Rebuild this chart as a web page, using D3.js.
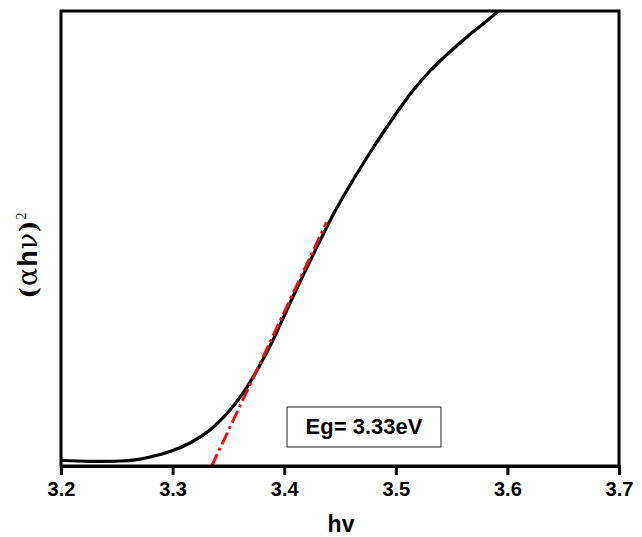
<!DOCTYPE html>
<html>
<head>
<meta charset="utf-8">
<script src="https://cdn.jsdelivr.net/npm/d3@7"></script>
<style>
  body { margin: 0; background: #fff; }
  svg { display: block; }
  text { font-family: "Liberation Sans", Arial, sans-serif; }
</style>
</head>
<body>
<script>
// photon energy (eV) and (alpha h nu)^2 in arbitrary units
var hv = [3.2000, 3.2260, 3.2529, 3.2663, 3.2797, 3.2977, 3.3156, 3.3335, 3.3514,
          3.3667, 3.3783, 3.3900, 3.4052, 3.4258, 3.4437, 3.4590, 3.4796, 3.4921,
          3.5038, 3.5154, 3.5306, 3.5459, 3.5638, 3.5781, 3.5916, 3.6023];
var ahv2 = [0.121, 0.103, 0.110, 0.136, 0.198, 0.319, 0.505, 0.791, 1.231,
            1.736, 2.220, 2.769, 3.582, 4.637, 5.516, 6.176, 6.989, 7.451,
            7.868, 8.253, 8.681, 9.044, 9.429, 9.714, 9.989, 10.198];

// linear fit of the absorption edge (Tauc extrapolation)
var fitX = [3.335, 3.438];
var fitY = [0, 5.36];

var xTicks = [3.2, 3.3, 3.4, 3.5, 3.6, 3.7];
var egLabel = 'Eg= 3.33eV';

var W = 642, H = 537;
var margin = {top: 11, right: 23, bottom: 71, left: 61};
var w = W - margin.left - margin.right;
var h = H - margin.top - margin.bottom;

var svg = d3.select('body').append('svg')
	.attr('width', W)
	.attr('height', H);

var g = svg.append('g')
	.attr('transform', 'translate(' + margin.left + ',' + margin.top + ')');

var x = d3.scaleLinear().domain([3.2, 3.7]).range([0, w]);
var y = d3.scaleLinear().domain([0, 10]).range([h, 0]);

g.append('clipPath').attr('id', 'clip')
	.append('rect').attr('width', w).attr('height', h);

var line = d3.line()
	.x(function(d){ return x(d[0]); })
	.y(function(d){ return y(d[1]); })
	.curve(d3.curveCatmullRom.alpha(0.5));

var pts = hv.map(function(v, i){ return [v, ahv2[i]]; });

g.append('path')
	.attr('clip-path', 'url(#clip)')
	.attr('d', line(pts))
	.style('fill', 'none')
	.style('stroke', '#000')
	.style('stroke-width', 3.2);

var fitPts = fitX.map(function(v, i){ return [v, fitY[i]]; });
g.append('path')
	.attr('d', d3.line().x(function(d){ return x(d[0]); }).y(function(d){ return y(d[1]); })(fitPts))
	.style('fill', 'none')
	.style('stroke', '#e8141b')
	.style('stroke-width', 3)
	.style('stroke-dasharray', '13,4,3,4');

// frame
g.append('rect')
	.attr('width', w).attr('height', h)
	.style('fill', 'none')
	.style('stroke', '#000')
	.style('stroke-width', 3);

var xAxis = g.append('g')
	.attr('transform', 'translate(0,' + h + ')')
	.call(d3.axisBottom(x).tickValues(xTicks).tickSize(9).tickPadding(7).tickFormat(d3.format('.1f')));
xAxis.select('.domain').style('stroke', '#000').style('stroke-width', 3);
xAxis.selectAll('.tick line').style('stroke', '#000').style('stroke-width', 3);
xAxis.selectAll('.tick text')
	.style('font-size', '20px')
	.style('font-weight', 'bold')
	.style('fill', '#000');

svg.append('text')
	.attr('x', margin.left + w / 2 + 1)
	.attr('y', 532)
	.attr('text-anchor', 'middle')
	.style('font-size', '23px')
	.style('font-weight', 'bold')
	.text('hv');

var yl = svg.append('text')
	.attr('transform', 'translate(37,255) rotate(-90)')
	.attr('text-anchor', 'middle')
	.style('font-size', '27px')
	.style('letter-spacing', '1px');
yl.append('tspan').style('font-family', '"DejaVu Serif", serif').style('font-size', '24px').style('font-weight', 'bold').text('(');
yl.append('tspan').style('font-family', '"DejaVu Serif", serif').text('α');
yl.append('tspan').style('font-weight', 'bold').text('h');
yl.append('tspan').style('font-family', '"DejaVu Serif", serif').text('ν');
yl.append('tspan').style('font-family', '"DejaVu Serif", serif').style('font-size', '24px').style('font-weight', 'bold').text(')');
yl.append('tspan').attr('dy', -11).style('font-size', '14px')
	.style('font-family', '"Liberation Serif", serif').text('2');

// band gap annotation
var box = svg.append('g').attr('transform', 'translate(287,407)');
box.append('rect')
	.attr('width', 154).attr('height', 40)
	.style('fill', '#fff')
	.style('stroke', '#444')
	.style('stroke-width', 1.2);
box.append('text')
	.attr('x', 77).attr('y', 27)
	.attr('text-anchor', 'middle')
	.style('font-size', '22px')
	.style('font-weight', 'bold')
	.text(egLabel);
</script>
</body>
</html>
